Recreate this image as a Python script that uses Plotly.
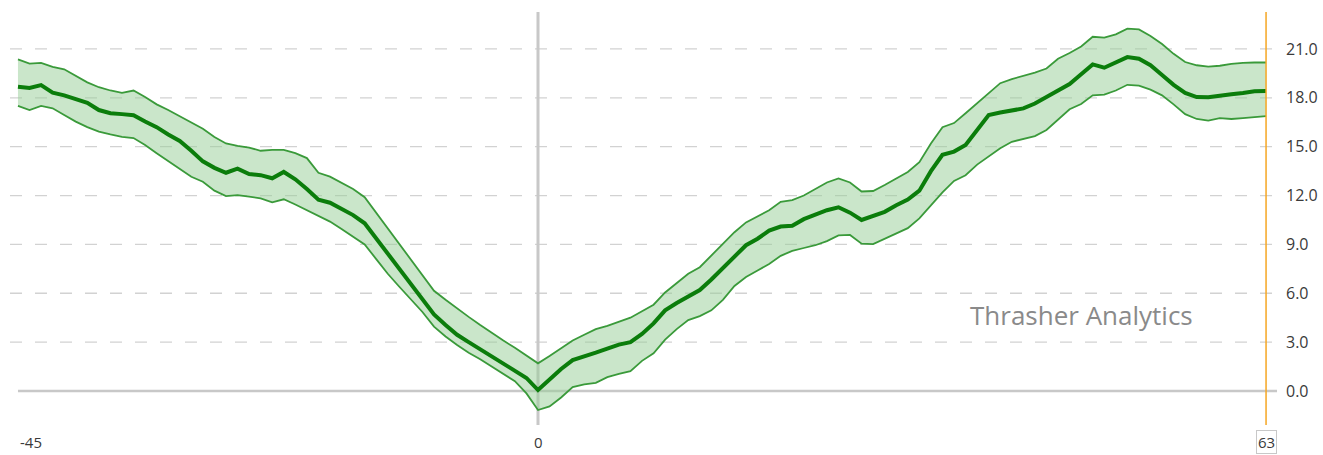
import plotly.graph_objects as go

# Day offsets relative to the event (day 0)
days = list(range(-45, 64))

# Average path
mid = [18.68, 18.60, 18.78, 18.32, 18.15, 17.95, 17.70, 17.25, 17.05, 17.00,
       16.93, 16.55, 16.20, 15.75, 15.35, 14.75, 14.10, 13.70, 13.40, 13.65,
       13.32, 13.25, 13.06, 13.45, 13.00, 12.40, 11.75, 11.56, 11.20, 10.80,
       10.30, 9.35, 8.40, 7.45, 6.60, 5.60, 4.70, 4.05, 3.45, 3.00,
       2.55, 2.10, 1.65, 1.25, 0.80, 0.06, 0.70, 1.35, 1.90, 2.10,
       2.35, 2.60, 2.85, 3.00, 3.50, 4.15, 4.95, 5.40, 5.80, 6.20,
       6.85, 7.55, 8.25, 8.95, 9.35, 9.85, 10.10, 10.15, 10.55, 10.80,
       11.10, 11.28, 10.95, 10.50, 10.75, 11.00, 11.40, 11.75, 12.30, 13.50,
       14.50, 14.70, 15.10, 16.00, 16.95, 17.10, 17.20, 17.35, 17.65, 18.05,
       18.45, 18.85, 19.45, 20.05, 19.85, 20.20, 20.50, 20.40, 20.00, 19.40,
       18.80, 18.30, 18.05, 18.03, 18.15, 18.22, 18.30, 18.40, 18.42]

# Upper edge of the band
upper = [20.36, 20.10, 20.15, 19.90, 19.75, 19.35, 18.95, 18.65, 18.45, 18.30,
         18.45, 18.05, 17.60, 17.25, 16.85, 16.50, 16.10, 15.60, 15.20, 15.05,
         14.95, 14.75, 14.80, 14.80, 14.60, 14.30, 13.40, 13.16, 12.80, 12.40,
         11.90, 10.95, 10.00, 9.07, 8.10, 7.10, 6.15, 5.60, 5.05, 4.55,
         4.05, 3.55, 3.10, 2.65, 2.20, 1.70, 2.15, 2.65, 3.10, 3.45,
         3.80, 4.00, 4.25, 4.50, 4.90, 5.30, 6.05, 6.65, 7.20, 7.60,
         8.30, 9.00, 9.75, 10.35, 10.70, 11.10, 11.62, 11.72, 12.00, 12.40,
         12.80, 13.05, 12.80, 12.25, 12.28, 12.65, 13.05, 13.45, 14.05, 15.20,
         16.20, 16.45, 17.05, 17.65, 18.30, 18.90, 19.15, 19.35, 19.55, 19.80,
         20.40, 20.75, 21.15, 21.75, 21.70, 21.90, 22.25, 22.20, 21.80, 21.30,
         20.70, 20.20, 20.00, 19.92, 19.97, 20.08, 20.15, 20.17, 20.17]

# Lower edge of the band
lower = [17.50, 17.25, 17.50, 17.36, 16.95, 16.54, 16.20, 15.92, 15.75, 15.60,
         15.53, 15.10, 14.60, 14.10, 13.60, 13.15, 12.85, 12.30, 11.97, 12.03,
         11.93, 11.83, 11.58, 11.77, 11.45, 11.10, 10.75, 10.40, 9.95, 9.50,
         9.00, 8.10, 7.20, 6.40, 5.60, 4.85, 3.95, 3.35, 2.82, 2.35,
         1.95, 1.50, 1.05, 0.60, -0.15, -1.17, -0.95, -0.40, 0.24, 0.40,
         0.50, 0.85, 1.05, 1.22, 1.85, 2.31, 3.15, 3.80, 4.35, 4.60,
         4.95, 5.60, 6.45, 7.00, 7.40, 7.80, 8.30, 8.60, 8.78, 8.95,
         9.20, 9.55, 9.58, 9.05, 9.02, 9.35, 9.65, 10.00, 10.60, 11.40,
         12.20, 12.90, 13.25, 13.90, 14.40, 14.90, 15.30, 15.48, 15.65, 16.03,
         16.65, 17.30, 17.62, 18.15, 18.20, 18.45, 18.80, 18.75, 18.50, 18.15,
         17.60, 17.00, 16.70, 16.60, 16.75, 16.70, 16.75, 16.82, 16.88]

y_ticks = [0, 3, 6, 9, 12, 15, 18, 21]
x_labels = [-45, 0, 63]
current_day = 63

BAND_EDGE = "#3a9a3a"
BAND_FILL = "rgba(150,205,150,0.5)"
MID_LINE = "#0b7d0b"
GRID = "#d2d2d2"
TEXT = "#3a3a3a"

fig = go.Figure()
fig.add_trace(go.Scatter(x=days, y=lower, mode="lines",
                         line=dict(color=BAND_EDGE, width=1.8),
                         hoverinfo="skip", showlegend=False))
fig.add_trace(go.Scatter(x=days, y=upper, mode="lines", fill="tonexty",
                         fillcolor=BAND_FILL,
                         line=dict(color=BAND_EDGE, width=1.8),
                         hoverinfo="skip", showlegend=False))
fig.add_trace(go.Scatter(x=days, y=mid, mode="lines",
                         line=dict(color=MID_LINE, width=4),
                         showlegend=False))

shapes = []
# dashed horizontal grid
for v in y_ticks[1:]:
    shapes.append(dict(type="line", xref="paper", x0=0, x1=1, yref="y", y0=v, y1=v,
                       line=dict(color=GRID, width=1.3, dash="12px,13px"), layer="below"))
# solid baseline at zero
shapes.append(dict(type="line", xref="x", x0=days[0], x1=63.95, yref="y", y0=0, y1=0,
                   line=dict(color="#c8c8c8", width=2.5), layer="below"))
# event marker at day 0
shapes.append(dict(type="line", xref="x", x0=0, x1=0, yref="paper", y0=0, y1=1,
                   line=dict(color="#c8c8c8", width=3), layer="below"))
# current day marker
shapes.append(dict(type="line", xref="x", x0=current_day, x1=current_day, yref="paper",
                   y0=0, y1=1, line=dict(color="#f5a623", width=1.5), layer="above"))

annotations = []
for xv in x_labels:
    a = dict(x=xv, xref="x", y=0, yref="paper", yanchor="top", yshift=-5,
             text=str(xv), showarrow=False, font=dict(family="Open Sans", size=15, color=TEXT))
    a["xanchor"] = "left" if xv == x_labels[0] else "center"
    if xv == current_day:
        a.update(bordercolor="#c8c8c8", borderwidth=1, borderpad=1, bgcolor="white")
    annotations.append(a)

# watermark
annotations.append(dict(xref="paper", yref="paper",
                        x=(1081 - 10) / 1275, y=(425 - 315) / 413,
                        xanchor="center", yanchor="middle",
                        text="Thrasher Analytics", showarrow=False,
                        font=dict(family="Open Sans", size=26, color="#8a8a8a")))

fig.update_layout(
    width=1323, height=455,
    margin=dict(l=10, r=38, t=12, b=30, autoexpand=False),
    paper_bgcolor="white", plot_bgcolor="white",
    xaxis=dict(range=[-45.69, 64.64], showgrid=False, zeroline=False, automargin=False,
               showticklabels=False, showline=False, fixedrange=True),
    yaxis=dict(range=[-2.088, 23.27], side="right", showgrid=False, zeroline=False,
               automargin=False,
               tickvals=y_ticks, ticktext=[f"{v:.1f}" for v in y_ticks],
               tickfont=dict(family="Open Sans", size=16, color=TEXT),
               ticks="", showline=False, fixedrange=True),
    shapes=shapes,
    annotations=annotations,
)

fig.write_html("out.html")
